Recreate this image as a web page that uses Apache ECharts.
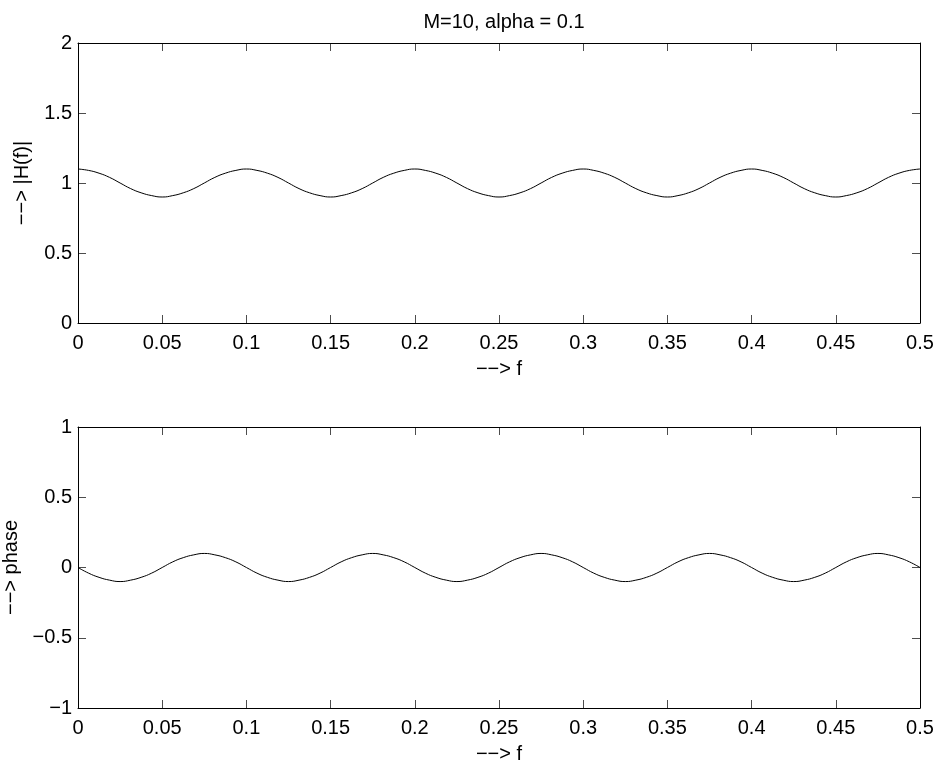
<!DOCTYPE html>
<html>
<head>
<meta charset="utf-8">
<script src="https://cdn.jsdelivr.net/npm/echarts@6/dist/echarts.min.js"></script>
<style>
html,body{margin:0;padding:0;background:#fff;}
#c{width:939px;height:766px;}
</style>
</head>
<body>
<div id="c"></div>
<script>
var titleText = 'M=10, alpha = 0.1';
var freq = [
0,0.00625,0.0125,0.01875,0.025,0.03125,0.0375,0.04375,
0.05,0.05625,0.0625,0.06875,0.075,0.08125,0.0875,0.09375,
0.1,0.10625,0.1125,0.11875,0.125,0.13125,0.1375,0.14375,
0.15,0.15625,0.1625,0.16875,0.175,0.18125,0.1875,0.19375,
0.2,0.20625,0.2125,0.21875,0.225,0.23125,0.2375,0.24375,
0.25,0.25625,0.2625,0.26875,0.275,0.28125,0.2875,0.29375,
0.3,0.30625,0.3125,0.31875,0.325,0.33125,0.3375,0.34375,
0.35,0.35625,0.3625,0.36875,0.375,0.38125,0.3875,0.39375,
0.4,0.40625,0.4125,0.41875,0.425,0.43125,0.4375,0.44375,
0.45,0.45625,0.4625,0.46875,0.475,0.48125,0.4875,0.49375,
0.5];
var magnitude = [
1.10,1.09,1.07,1.04,1.00,0.96,0.93,0.91,
0.90,0.91,0.93,0.96,1.00,1.04,1.07,1.09,
1.10,1.09,1.07,1.04,1.00,0.96,0.93,0.91,
0.90,0.91,0.93,0.96,1.00,1.04,1.07,1.09,
1.10,1.09,1.07,1.04,1.00,0.96,0.93,0.91,
0.90,0.91,0.93,0.96,1.00,1.04,1.07,1.09,
1.10,1.09,1.07,1.04,1.00,0.96,0.93,0.91,
0.90,0.91,0.93,0.96,1.00,1.04,1.07,1.09,
1.10,1.09,1.07,1.04,1.00,0.96,0.93,0.91,
0.90,0.91,0.93,0.96,1.00,1.04,1.07,1.09,
1.10];
var phase = [
0,-0.04,-0.07,-0.09,-0.10,-0.09,-0.07,-0.04,
0,0.04,0.07,0.09,0.10,0.09,0.07,0.04,
0,-0.04,-0.07,-0.09,-0.10,-0.09,-0.07,-0.04,
0,0.04,0.07,0.09,0.10,0.09,0.07,0.04,
0,-0.04,-0.07,-0.09,-0.10,-0.09,-0.07,-0.04,
0,0.04,0.07,0.09,0.10,0.09,0.07,0.04,
0,-0.04,-0.07,-0.09,-0.10,-0.09,-0.07,-0.04,
0,0.04,0.07,0.09,0.10,0.09,0.07,0.04,
0,-0.04,-0.07,-0.09,-0.10,-0.09,-0.07,-0.04,
0,0.04,0.07,0.09,0.10,0.09,0.07,0.04,
0];
var xTicks = [0,0.05,0.1,0.15,0.2,0.25,0.3,0.35,0.4,0.45,0.5];
var magTicks = [0,0.5,1,1.5,2];
var phaseTicks = [-1,-0.5,0,0.5,1];
var xName = '\u2212\u2212> f';
var magName = '\u2212\u2212> |H(f)|';
var phaseName = '\u2212\u2212> phase';

var FONT = '"Liberation Sans", Arial, Helvetica, sans-serif';
var FS = 20;
function fmt(v){ return String(v).replace('-', '\u2212'); }

function pairs(xs, ys){ var o=[]; for(var i=0;i<xs.length;i++) o.push([xs[i], ys[i]]); return o; }

function xAxisMain(gi, showLabel, pos){
  return {
    type:'value', gridIndex:gi, min:xTicks[0], max:xTicks[xTicks.length-1], interval:0.05, position:pos,
    name: showLabel ? xName : '', nameLocation:'middle', nameGap:36,
    nameTextStyle:{color:'#000', fontFamily:FONT, fontSize:FS},
    axisLine:{show:true, onZero:false, lineStyle:{color:'#000', width:1}},
    axisTick:{show:true, inside:true, length:8, lineStyle:{color:'#000', width:0.7}},
    axisLabel:{show:showLabel, color:'#000', fontFamily:FONT, fontSize:FS, margin:10, formatter:function(v){return fmt(v);}},
    splitLine:{show:false}
  };
}
function yAxisMain(gi, ticks, showLabel, pos, name, gap){
  return {
    type:'value', gridIndex:gi, min:ticks[0], max:ticks[ticks.length-1], interval:0.5, position:pos,
    name: showLabel ? name : '', nameLocation:'middle', nameGap:gap, nameRotate:90,
    nameTextStyle:{color:'#000', fontFamily:FONT, fontSize:FS},
    axisLine:{show:true, onZero:false, lineStyle:{color:'#000', width:1}},
    axisTick:{show:true, inside:true, length:8, lineStyle:{color:'#000', width:0.7}},
    axisLabel:{show:showLabel, color:'#000', fontFamily:FONT, fontSize:FS, margin:6, formatter:function(v){return fmt(v);}},
    splitLine:{show:false}
  };
}

var chart = echarts.init(document.getElementById('c'), null, {renderer:'canvas'});
chart.setOption({
  backgroundColor:'#fff',
  animation:false,
  title:{text:titleText, left:499, top:7, textAlign:'center',
    textStyle:{color:'#000', fontFamily:FONT, fontSize:FS, fontWeight:'normal'}},
  grid:[
    {left:78, top:43, width:842, height:280, containLabel:false, outerBoundsMode:'none'},
    {left:78, top:427, width:842, height:281, containLabel:false, outerBoundsMode:'none'}
  ],
  xAxis:[
    xAxisMain(0, true, 'bottom'),
    xAxisMain(0, false, 'top'),
    xAxisMain(1, true, 'bottom'),
    xAxisMain(1, false, 'top')
  ],
  yAxis:[
    yAxisMain(0, magTicks, true, 'left', magName, 46),
    yAxisMain(0, magTicks, false, 'right', '', 0),
    yAxisMain(1, phaseTicks, true, 'left', phaseName, 56),
    yAxisMain(1, phaseTicks, false, 'right', '', 0)
  ],
  series:[
    {type:'line', xAxisIndex:0, yAxisIndex:0, data:pairs(freq, magnitude), smooth:true, showSymbol:false,
      lineStyle:{color:'#000', width:1}},
    {type:'line', xAxisIndex:2, yAxisIndex:2, data:pairs(freq, phase), smooth:true, showSymbol:false,
      lineStyle:{color:'#000', width:1}}
  ]
});
</script>
</body>
</html>
